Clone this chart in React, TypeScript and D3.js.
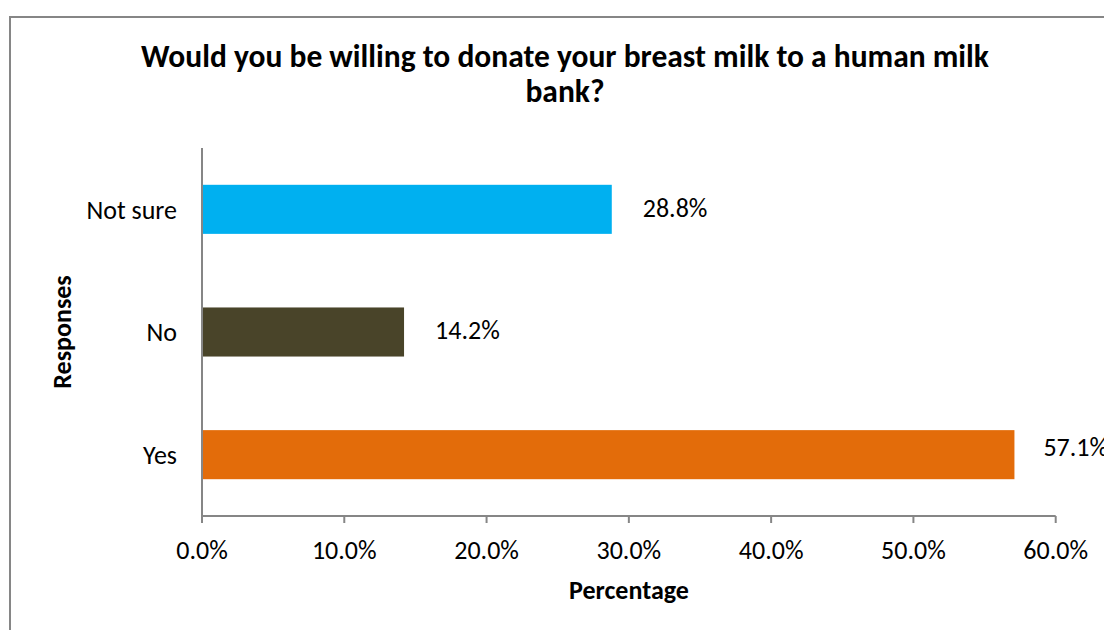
import React from "react";
import * as d3 from "d3";

const categories = ["Not sure", "No", "Yes"];
const values = [28.8, 14.2, 57.1];
const barColors = ["#00B0F0", "#494429", "#E36C0A"];
const xTicks = [0, 10, 20, 30, 40, 50, 60];
const titleLines = ["Would you be willing to donate your breast milk to a human milk", "bank?"];
const xTitle = "Percentage";
const yTitle = "Responses";

const W = 1104;
const H = 630;
const FONT = "Carlito, Calibri, Lato, 'Open Sans', sans-serif";

export default function App() {
  const left = 202;
  const right = 1055.7;
  const top = 148;
  const bottom = 516;
  const x = d3.scaleLinear().domain([0, 60]).range([left, right]);
  const y = d3.scaleBand().domain(categories).range([top, bottom]).paddingInner(0.6).paddingOuter(0.3);
  const axisColor = "#868686";
  const labelSize = 26;

  return (
    <svg width={W} height={H} style={{ position: "absolute", left: 0, top: 0 }} fontFamily={FONT}>
      <rect x={0} y={0} width={W} height={H} fill="#fff" />
      <rect x={10} y={17} width={W + 20} height={H + 20} fill="none" stroke={axisColor} strokeWidth={2} />
      {titleLines.map((t, i) => (
        <text key={i} x={565} y={56 + i * 35} dy="0.36em" textAnchor="middle" fontSize={31.5} fontWeight="bold" fill="#000">
          {t}
        </text>
      ))}
      {categories.map((c, i) => {
        const cy = y(c)! + y.bandwidth() / 2;
        const lx = x(values[i]) + 31;
        const overflow = lx + 60 > W;
        return (
          <g key={c}>
            <rect x={x(0)} y={y(c)!} width={x(values[i]) - x(0)} height={y.bandwidth()} fill={barColors[i]} />
            <text x={left - 25} y={cy} dy="0.36em" textAnchor="end" fontSize={labelSize} fill="#000">
              {c}
            </text>
            <text x={overflow ? lx - 2 : lx} y={cy - (overflow ? 8 : 2)} dy="0.36em" textAnchor="start" fontSize={labelSize} fill="#000">
              {values[i].toFixed(1) + "%"}
            </text>
          </g>
        );
      })}
      <line x1={left} x2={left} y1={top} y2={bottom} stroke={axisColor} strokeWidth={2} />
      <line x1={left} x2={right} y1={bottom} y2={bottom} stroke={axisColor} strokeWidth={2} />
      {xTicks.map((t) => (
        <g key={t}>
          <line x1={x(t)} x2={x(t)} y1={bottom} y2={bottom + 7} stroke={axisColor} strokeWidth={2} />
          <text x={x(t)} y={550} dy="0.36em" textAnchor="middle" fontSize={labelSize} fill="#000">
            {t.toFixed(1) + "%"}
          </text>
        </g>
      ))}
      <text x={629} y={590} dy="0.36em" textAnchor="middle" fontSize={labelSize} fontWeight="bold" fill="#000">
        {xTitle}
      </text>
      <text transform={`translate(62,332) rotate(-90)`} dy="0.36em" textAnchor="middle" fontSize={labelSize} fontWeight="bold" fill="#000">
        {yTitle}
      </text>
    </svg>
  );
}
